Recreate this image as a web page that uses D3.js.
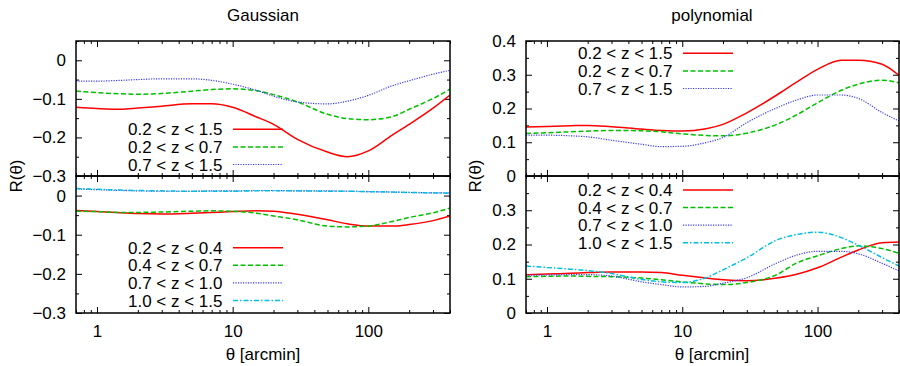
<!DOCTYPE html>
<html><head><meta charset="utf-8">
<script src="https://cdn.jsdelivr.net/npm/d3@7"></script>
<style>
body{margin:0;background:#fff}
svg{display:block}
text{font-family:"Liberation Sans",Arial,Helvetica,sans-serif;fill:#000}
</style>
</head><body>
<svg id="chart" width="900" height="366"></svg>
<script>
// ---- data (theta in arcmin, R(theta) values) ----
const theta = [0.7,1,1.5,2,3,5,7,10,15,20,30,50,70,100,150,200,300,400];

// Gaussian, broad redshift bins
const gaussBroad_02_15 = [-0.122,-0.125,-0.127,-0.124,-0.119,-0.113,-0.113,-0.122,-0.147,-0.166,-0.205,-0.238,-0.250,-0.235,-0.194,-0.166,-0.124,-0.090];
const gaussBroad_02_07 = [-0.080,-0.084,-0.087,-0.088,-0.086,-0.080,-0.076,-0.074,-0.079,-0.089,-0.108,-0.140,-0.151,-0.154,-0.146,-0.127,-0.099,-0.075];
const gaussBroad_07_15 = [-0.054,-0.054,-0.052,-0.050,-0.048,-0.048,-0.052,-0.062,-0.078,-0.093,-0.108,-0.113,-0.106,-0.091,-0.066,-0.053,-0.036,-0.026];
// Gaussian, fine redshift bins
const gaussFine_02_04 = [-0.038,-0.041,-0.044,-0.046,-0.047,-0.045,-0.043,-0.041,-0.039,-0.040,-0.048,-0.062,-0.072,-0.078,-0.078,-0.074,-0.064,-0.052];
const gaussFine_04_07 = [-0.040,-0.041,-0.043,-0.043,-0.042,-0.040,-0.039,-0.040,-0.045,-0.052,-0.062,-0.078,-0.080,-0.078,-0.066,-0.056,-0.044,-0.032];
const gaussFine_07_10 = [0.017,0.015,0.013,0.012,0.011,0.011,0.012,0.012,0.013,0.013,0.012,0.012,0.011,0.010,0.009,0.008,0.007,0.007];
const gaussFine_10_15 = [0.018,0.016,0.014,0.013,0.012,0.011,0.011,0.011,0.012,0.012,0.012,0.011,0.011,0.010,0.009,0.008,0.007,0.006];
// polynomial, broad redshift bins
const polyBroad_02_15 = [0.145,0.147,0.149,0.150,0.146,0.139,0.135,0.133,0.140,0.153,0.187,0.240,0.278,0.316,0.343,0.343,0.331,0.298];
const polyBroad_02_07 = [0.126,0.128,0.131,0.133,0.135,0.134,0.131,0.125,0.120,0.119,0.127,0.153,0.181,0.217,0.254,0.272,0.284,0.276];
const polyBroad_07_15 = [0.121,0.121,0.119,0.116,0.106,0.094,0.087,0.088,0.099,0.114,0.158,0.202,0.225,0.240,0.240,0.230,0.188,0.163];
// polynomial, fine redshift bins
const polyFine_02_04 = [0.112,0.114,0.116,0.118,0.120,0.120,0.118,0.110,0.102,0.097,0.094,0.102,0.113,0.132,0.163,0.184,0.205,0.207];
const polyFine_04_07 = [0.106,0.107,0.108,0.107,0.106,0.102,0.097,0.091,0.085,0.083,0.089,0.112,0.146,0.167,0.188,0.196,0.188,0.174];
const polyFine_07_10 = [0.110,0.111,0.112,0.112,0.108,0.091,0.083,0.076,0.078,0.087,0.103,0.146,0.169,0.180,0.180,0.173,0.145,0.123];
const polyFine_10_15 = [0.137,0.133,0.128,0.124,0.115,0.098,0.091,0.089,0.103,0.126,0.161,0.213,0.229,0.236,0.220,0.198,0.162,0.137];

const broadLabels = ["0.2 < z < 1.5","0.2 < z < 0.7","0.7 < z < 1.5"];
const fineLabels  = ["0.2 < z < 0.4","0.4 < z < 0.7","0.7 < z < 1.0","1.0 < z < 1.5"];
const gaussTicks = [0,-0.1,-0.2,-0.3];
const polyTicksTop = [0,0.1,0.2,0.3,0.4];
const polyTicksBottom = [0,0.1,0.2,0.3];
const xTicks = [1,10,100];
const titles = ["Gaussian","polynomial"];
const xTitle = "θ [arcmin]";
const yTitle = "R(θ)";

// ---- styles / layout ----
const styles = [
  {color:"#ff0000", dash:null,          w:1.5},
  {color:"#00c000", dash:"5,2.5",       w:1.5},
  {color:"#3a3aff", dash:"1.2,1.3",     w:1.2},
  {color:"#00c0e0", dash:"5,2,1.5,2",   w:1.5}
];
const FS = 17;
const svg = d3.select("#chart");

const panels = [
  {x0:76, x1:450, y0:41,  y1:176, dom:[-0.3,0.05], series:[gaussBroad_02_15,gaussBroad_02_07,gaussBroad_07_15], labels:broadLabels, ticks:gaussTicks, legY:129.3, xlab:false},
  {x0:76, x1:450, y0:176, y1:313, dom:[-0.3,0.05], series:[gaussFine_02_04,gaussFine_04_07,gaussFine_07_10,gaussFine_10_15], labels:fineLabels, ticks:gaussTicks, legY:247.7, xlab:true},
  {x0:526,x1:899, y0:41,  y1:176, dom:[0,0.4], series:[polyBroad_02_15,polyBroad_02_07,polyBroad_07_15], labels:broadLabels, ticks:polyTicksTop, legY:53.3, xlab:false},
  {x0:526,x1:899, y0:176, y1:313, dom:[0,0.4], series:[polyFine_02_04,polyFine_04_07,polyFine_07_10,polyFine_10_15], labels:fineLabels, ticks:polyTicksBottom, legY:190, xlab:true}
];

const fmtY = v => Math.abs(v) < 1e-9 ? "0" : d3.format(".1f")(v);
const minorX = [0.7,0.8,0.9,2,3,4,5,6,7,8,9,20,30,40,50,60,70,80,90,200,300,400];

function styleAxis(g){
  g.select(".domain").remove();
  g.selectAll("line").attr("stroke","#000").attr("stroke-width",1);
  g.selectAll("text").attr("font-size",FS).attr("font-family",'"Liberation Sans",Arial,sans-serif').attr("fill","#000");
}

panels.forEach((p,pi)=>{
  const x = d3.scaleLog().domain([0.7,400]).range([p.x0,p.x1]);
  const y = d3.scaleLinear().domain(p.dom).range([p.y1,p.y0]);
  const minorY = d3.range(Math.round(p.dom[0]*20), Math.round(p.dom[1]*20)+1)
      .filter(i => i % 2 !== 0).map(i => i/20);

  // y axes (left labelled + right mirrored), inward ticks
  svg.append("g").attr("transform",`translate(${p.x0},0)`)
    .call(d3.axisLeft(y).tickValues(p.ticks).tickSize(-6).tickPadding(10).tickFormat(fmtY)).call(styleAxis);
  svg.append("g").attr("transform",`translate(${p.x0},0)`)
    .call(d3.axisLeft(y).tickValues(minorY).tickSize(-3).tickFormat("")).call(styleAxis);
  svg.append("g").attr("transform",`translate(${p.x1},0)`)
    .call(d3.axisRight(y).tickValues(p.ticks).tickSize(-6).tickFormat("")).call(styleAxis);
  svg.append("g").attr("transform",`translate(${p.x1},0)`)
    .call(d3.axisRight(y).tickValues(minorY).tickSize(-3).tickFormat("")).call(styleAxis);

  // x axes
  svg.append("g").attr("transform",`translate(0,${p.y1})`)
    .call(d3.axisBottom(x).tickValues(xTicks).tickSize(-6).tickPadding(12)
      .tickFormat(p.xlab ? d3.format("d") : "")).call(styleAxis);
  svg.append("g").attr("transform",`translate(0,${p.y1})`)
    .call(d3.axisBottom(x).tickValues(minorX).tickSize(-3).tickFormat("")).call(styleAxis);
  svg.append("g").attr("transform",`translate(0,${p.y0})`)
    .call(d3.axisTop(x).tickValues(xTicks).tickSize(-6).tickFormat("")).call(styleAxis);
  svg.append("g").attr("transform",`translate(0,${p.y0})`)
    .call(d3.axisTop(x).tickValues(minorX).tickSize(-3).tickFormat("")).call(styleAxis);

  // clip
  const cid = "clip"+pi;
  svg.append("clipPath").attr("id",cid).append("rect")
    .attr("x",p.x0).attr("y",p.y0).attr("width",p.x1-p.x0).attr("height",p.y1-p.y0);

  const line = d3.line().x((d,i)=>x(theta[i])).y(d=>y(d)).curve(d3.curveMonotoneX);
  const gl = svg.append("g").attr("clip-path",`url(#${cid})`);
  p.series.forEach((s,si)=>{
    const st = styles[si];
    gl.append("path").datum(s).attr("d",line).attr("fill","none")
      .attr("stroke",st.color).attr("stroke-width",st.w)
      .attr("stroke-dasharray",st.dash);
  });

  // legend
  const lg = svg.append("g");
  p.labels.forEach((lab,li)=>{
    const st = styles[li];
    const yy = p.legY + li*17.6;
    lg.append("text").attr("x",p.x0+146.5).attr("y",yy).attr("dy","0.36em")
      .attr("text-anchor","end").attr("font-size",FS).text(lab);
    lg.append("line").attr("x1",p.x0+157).attr("x2",p.x0+207).attr("y1",yy).attr("y2",yy)
      .attr("stroke",st.color).attr("stroke-width",st.w).attr("stroke-dasharray",st.dash);
  });

  // frame
  svg.append("rect").attr("x",p.x0).attr("y",p.y0).attr("width",p.x1-p.x0).attr("height",p.y1-p.y0)
    .attr("fill","none").attr("stroke","#000").attr("stroke-width",1.5);
});

// titles and axis labels
[[263,0],[712,1]].forEach(([cx,i])=>{
  svg.append("text").attr("x",cx).attr("y",21).attr("text-anchor","middle").attr("font-size",FS).text(titles[i]);
  svg.append("text").attr("x",cx).attr("y",360).attr("text-anchor","middle").attr("font-size",FS).text(xTitle);
});
[16,475].forEach(cx=>{
  svg.append("text").attr("transform",`translate(${cx},176) rotate(-90)`)
    .attr("text-anchor","middle").attr("dy","0.36em").attr("font-size",FS).text(yTitle);
});
</script>
</body></html>
